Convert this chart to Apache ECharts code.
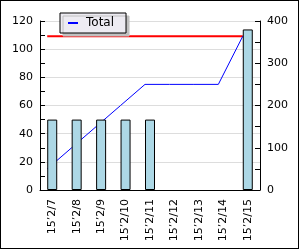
<!DOCTYPE html>
<html>
<head>
<meta charset="utf-8">
<script src="https://cdn.jsdelivr.net/npm/echarts@6/dist/echarts.min.js"></script>
<style>
  body { margin: 0; background: #fff; }
  #chart { position: absolute; left: 0; top: 0; width: 300px; height: 250px; }
  #frame { position: absolute; left: 0; top: 0; width: 299px; height: 249px;
           box-sizing: border-box; border: 1px solid #000; pointer-events: none; }
</style>
</head>
<body>
<div id="chart"></div>
<div id="frame"></div>
<script>
// categories (dates)
var categories = ['15’2/7', '15’2/8', '15’2/9', '15’2/10', '15’2/11', '15’2/12', '15’2/13', '15’2/14', '15’2/15'];
// pages per day (bars, left axis)
var pagesData = [50, 50, 50, 50, 50, null, null, null, 114];
// running total (blue line, right axis)
var totalData = [50, 100, 150, 200, 250, 250, 250, 250, 364];
// red limit line (right axis)
var limitData = [364, 364, 364, 364, 364, 364, 364, 364, 364];
// axis ranges
var leftMax = 120, leftStep = 20;
var rightMax = 400, rightStep = 100;

var font = 'DejaVu Sans';

var myChart = echarts.init(document.getElementById('chart'), null, { renderer: 'canvas' });

var option = {
    animation: false,
    backgroundColor: '#fff',
    textStyle: { fontFamily: font },
    legend: {
        data: ['Total'],
        left: 60,
        top: 13,
        icon: 'rect',
        itemWidth: 10,
        itemHeight: 2,
        padding: [4, 12, 4, 8],
        backgroundColor: '#EDEBF2',
        borderColor: '#000',
        borderWidth: 1,
        borderRadius: 0,
        shadowColor: '#C0C0C0',
        shadowBlur: 0,
        shadowOffsetX: 3,
        shadowOffsetY: 3,
        textStyle: { fontFamily: font, fontSize: 12, color: '#000', padding: [0, 0, 0, 3] }
    },
    // grid 0 = visible axes + bars, grid 1 = lines (a few px to the left)
    grid: [
        { left: 40, right: 40, top: 21, bottom: 60, outerBoundsMode: 'none' },
        { left: 35, right: 45, top: 21, bottom: 60, outerBoundsMode: 'none' }
    ],
    xAxis: [
        {
            type: 'category',
            gridIndex: 0,
            data: categories,
            boundaryGap: true,
            axisLine: { lineStyle: { color: '#000', width: 1 } },
            axisTick: { inside: true, length: 5, interval: 0, lineStyle: { color: '#000' } },
            axisLabel: { rotate: 90, interval: 0, margin: 9, color: '#000', fontFamily: font, fontSize: 11 },
            splitLine: { show: false }
        },
        {
            type: 'category',
            gridIndex: 1,
            data: categories,
            boundaryGap: true,
            show: false
        }
    ],
    yAxis: [
        {
            type: 'value',
            gridIndex: 0,
            min: 0,
            max: leftMax,
            interval: leftStep,
            name: 'Pages',
            nameLocation: 'middle',
            nameRotate: 90,
            nameGap: 27,
            nameTextStyle: { color: '#000', fontFamily: font, fontSize: 11 },
            axisLine: { show: true, lineStyle: { color: '#000' } },
            axisTick: { show: true, inside: true, length: 5, lineStyle: { color: '#000' } },
            minorTick: { show: true, splitNumber: 2, length: 5, lineStyle: { color: '#000' } },
            axisLabel: { color: '#000', fontFamily: font, fontSize: 11, margin: 7 },
            splitLine: { show: true, lineStyle: { color: '#DDDDDD', width: 1 } }
        },
        {
            type: 'value',
            gridIndex: 0,
            position: 'right',
            min: 0,
            max: rightMax,
            interval: rightStep,
            axisLine: { show: true, lineStyle: { color: '#000' } },
            axisTick: { show: true, inside: true, length: 5, lineStyle: { color: '#000' } },
            minorTick: { show: true, splitNumber: 2, length: 5, lineStyle: { color: '#000' } },
            axisLabel: { color: '#000', fontFamily: font, fontSize: 11, margin: 7 },
            splitLine: { show: false }
        },
        {
            type: 'value',
            gridIndex: 1,
            min: 0,
            max: rightMax,
            show: false
        }
    ],
    series: [
        {
            name: 'Limit',
            type: 'line',
            xAxisIndex: 1,
            yAxisIndex: 2,
            data: limitData,
            showSymbol: false,
            lineStyle: { color: '#FF0000', width: 2 },
            itemStyle: { color: '#FF0000' },
            z: 1
        },
        {
            name: 'Total',
            type: 'line',
            xAxisIndex: 1,
            yAxisIndex: 2,
            data: totalData,
            showSymbol: false,
            lineStyle: { color: '#0000FF', width: 1 },
            itemStyle: { color: '#0000FF' },
            z: 1
        },
        {
            name: 'Pages',
            type: 'bar',
            xAxisIndex: 0,
            yAxisIndex: 0,
            data: pagesData,
            barWidth: 10,
            itemStyle: { color: '#ADD8E6', borderColor: '#000', borderWidth: 1 },
            z: 3
        }
    ]
};

myChart.setOption(option);
</script>
</body>
</html>
